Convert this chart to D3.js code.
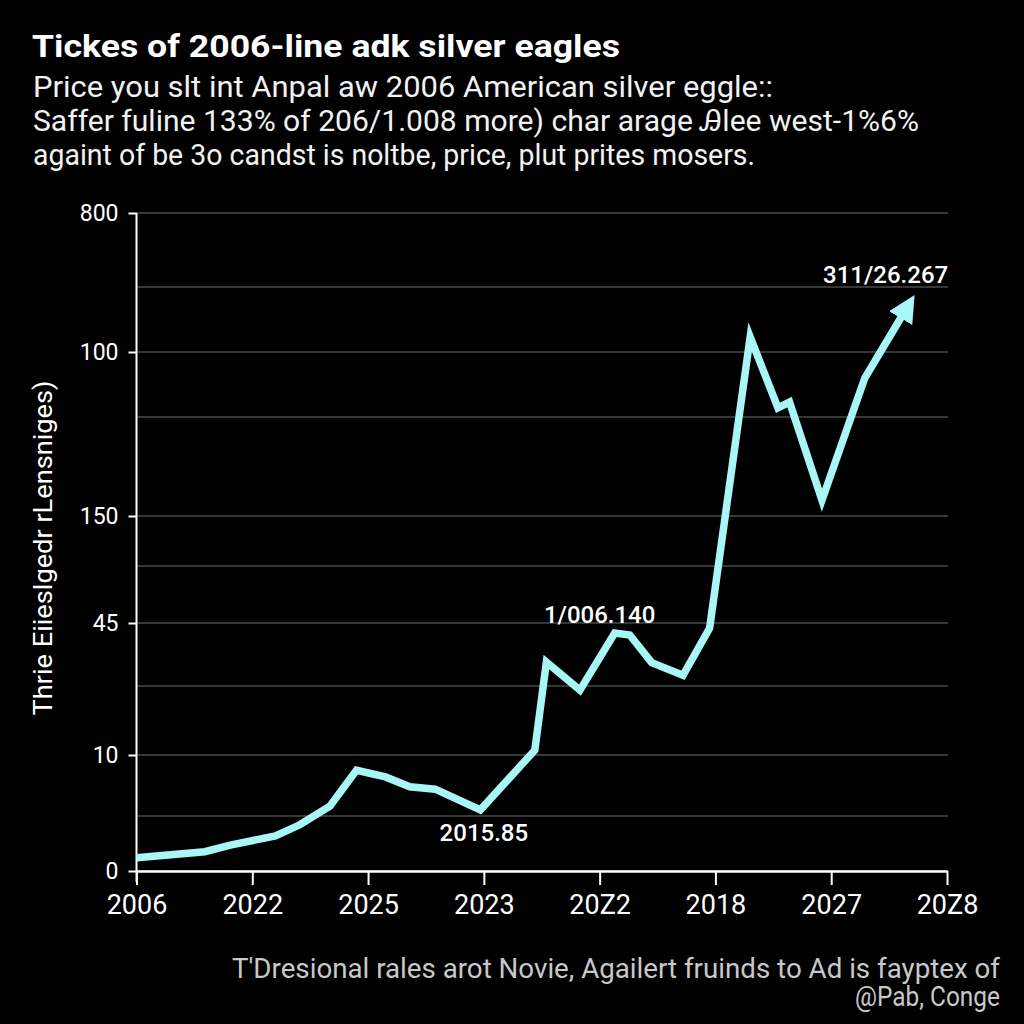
<!DOCTYPE html>
<html>
<head>
<meta charset="utf-8">
<script src="https://cdn.jsdelivr.net/npm/d3@7"></script>
<style>
  body { margin: 0; background: #000; }
  svg { display: block; }
</style>
</head>
<body>
<script>
// data (x in tick steps, y in grid steps -- the axis is not linear)
var xLabels = ["2006", "2022", "2025", "2023", "20Z2", "2018", "2027", "20Z8"];
var yLabels = ["0", "10", "45", "150", "100", "800"];
var yLabelSteps = [0, 2, 4, 6, 8, 10];
var xs = [0, 0.59, 0.81, 1.20, 1.41, 1.67, 1.90, 2.15, 2.36, 2.58, 2.97, 3.44, 3.54, 3.83, 4.13, 4.26, 4.45, 4.72, 4.95, 5.30, 5.54, 5.64, 5.92, 6.29, 6.66];
var ys = [0.24, 0.35, 0.47, 0.64, 0.84, 1.16, 1.75, 1.64, 1.48, 1.44, 1.10, 2.07, 3.38, 2.94, 3.84, 3.81, 3.37, 3.17, 3.92, 8.23, 7.14, 7.23, 6.16, 7.60, 8.70];
var notes = [
  {x: 4.00, y: 4.0, t: "1/006.140"},
  {x: 6.47, y: 9.06, t: "311/26.267"},
  {x: 3.00, y: 0.55, t: "2015.85"}
];

var W = 1024, H = 1024;
var svg = d3.select("body").append("svg").attr("width", W).attr("height", H);
svg.append("rect").attr("width", W).attr("height", H).attr("fill", "#000");

var x = d3.scaleLinear().domain([0, 7]).range([136.5, 947]);
var y = d3.scaleLinear()
    .domain(d3.range(0, 11))
    .range([871, 816, 755, 686, 623, 566, 516, 417, 352, 287, 213]);

// title + subtitle
svg.append("text").attr("x", 32).attr("y", 57)
    .attr("font-family", "Roboto, sans-serif").attr("font-weight", "bold")
    .attr("font-size", 32).attr("fill", "#fff")
    .attr("textLength", 588).attr("lengthAdjust", "spacingAndGlyphs")
    .text("Tickes of 2006-line adk silver eagles");
var sub = ["Price you slt int Anpal aw 2006 American silver eggle::",
           "Saffer fuline 133% of 206/1.008 more) char arage Ꭿlee west-1%6%",
           "againt of be 3o candst is noltbe, price, plut prites mosers."];
var subLen = [740, 886, 722];
svg.selectAll(".sub").data(sub).enter().append("text")
    .attr("x", 33).attr("y", function(d, i) { return 97 + i * 34; })
    .attr("font-family", "Roboto, sans-serif").attr("font-size", 30)
    .attr("fill", "#f2f2f2")
    .attr("textLength", function(d, i) { return subLen[i]; })
    .attr("lengthAdjust", "spacingAndGlyphs")
    .text(function(d) { return d; });

// grid
svg.append("g").selectAll("line").data(d3.range(0, 11)).enter().append("line")
    .attr("x1", 136).attr("x2", 948)
    .attr("y1", function(d) { return y(d); }).attr("y2", function(d) { return y(d); })
    .attr("stroke", "#4a4a4a").attr("stroke-width", 1.5);

// y axis
var yAxis = svg.append("g").attr("transform", "translate(136.5,0)")
    .call(d3.axisLeft(y).tickValues(yLabelSteps)
        .tickFormat(function(d, i) { return yLabels[i]; }).tickSize(8).tickPadding(10));
yAxis.select(".domain").attr("stroke", "#fff").attr("stroke-width", 2)
    .attr("d", "M0,213V882");
yAxis.selectAll(".tick line").attr("stroke", "#fff").attr("stroke-width", 2);
yAxis.selectAll("text").attr("fill", "#fff").attr("font-family", "Roboto, sans-serif")
    .attr("font-size", 23);

// x axis
var xAxis = svg.append("g").attr("transform", "translate(0,871)")
    .call(d3.axisBottom(x).tickValues(d3.range(0, 8))
        .tickFormat(function(d) { return xLabels[d]; }).tickSize(14).tickSizeOuter(0).tickPadding(10));
xAxis.select(".domain").attr("stroke", "#fff").attr("stroke-width", 2.5);
xAxis.selectAll(".tick line").attr("stroke", "#fff").attr("stroke-width", 2);
xAxis.selectAll("text").attr("fill", "#fff").attr("font-family", "Roboto, sans-serif")
    .attr("font-size", 27);

// y axis title
svg.append("text").attr("transform", "translate(52,548) rotate(-90)")
    .attr("text-anchor", "middle").attr("font-family", "Roboto, sans-serif")
    .attr("font-size", 25).attr("fill", "#fff")
    .attr("textLength", 335).attr("lengthAdjust", "spacingAndGlyphs")
    .text("Thrie  Eiieslgedr rLensniges)");

// line
var pts = xs.map(function(d, i) { return [d, ys[i]]; });
svg.append("defs").append("marker").attr("id", "arr")
    .attr("viewBox", "0 0 10 10").attr("refX", 5).attr("refY", 5)
    .attr("markerWidth", 3.6).attr("markerHeight", 3.6).attr("orient", "auto")
    .append("path").attr("d", "M0,0L10,5L0,10z").attr("fill", "#a9f6f6");
svg.append("path").datum(pts)
    .attr("fill", "none").attr("stroke", "#a9f6f6").attr("stroke-width", 7.5)
    .attr("stroke-linejoin", "miter")
    .attr("marker-end", "url(#arr)")
    .attr("d", d3.line().x(function(d) { return x(d[0]); }).y(function(d) { return y(d[1]); }));

// labels
svg.selectAll(".note").data(notes).enter().append("text")
    .attr("x", function(d) { return x(d.x); }).attr("y", function(d) { return y(d.y); })
    .attr("text-anchor", "middle").attr("font-family", "Roboto, sans-serif")
    .attr("font-weight", 500).attr("font-size", 24).attr("fill", "#fff")
    .text(function(d) { return d.t; });

// footer
var foot = ["T'Dresional rales arot Novie, Agailert fruinds to Ad is fayptex of", "@Pab, Conge"];
svg.selectAll(".foot").data(foot).enter().append("text")
    .attr("x", 1000).attr("y", function(d, i) { return 978 + i * 28; })
    .attr("text-anchor", "end").attr("font-family", "Roboto, sans-serif")
    .attr("font-size", 27).attr("fill", "#c8c8c8")
    .attr("textLength", function(d, i) { return i ? 145 : 768; })
    .attr("lengthAdjust", "spacingAndGlyphs")
    .text(function(d) { return d; });
</script>
</body>
</html>
